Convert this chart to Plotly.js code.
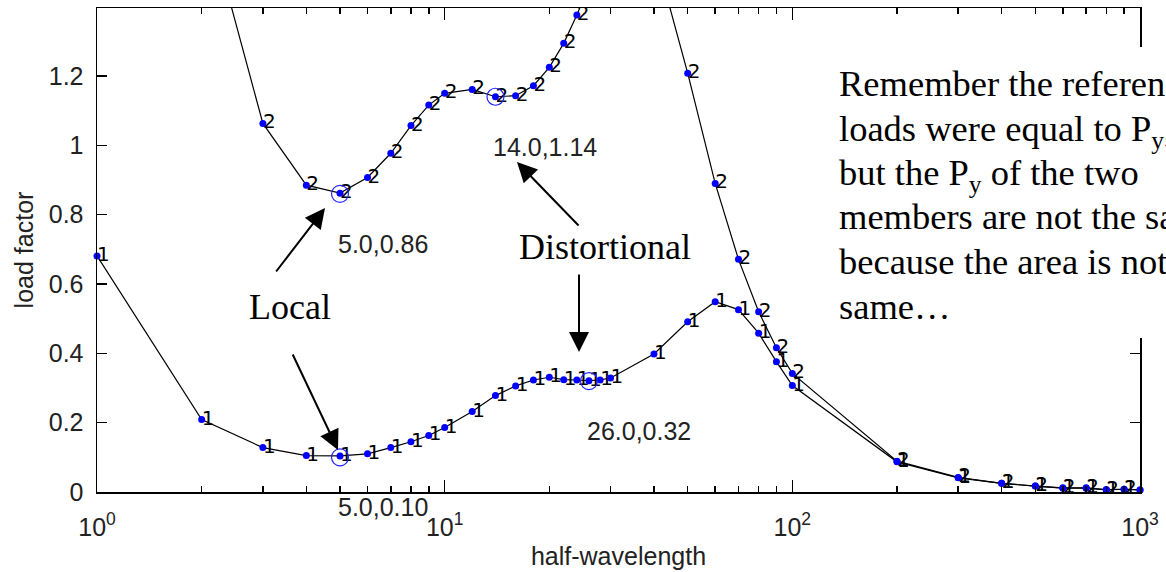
<!DOCTYPE html>
<html><head><meta charset="utf-8">
<script src="https://cdn.plot.ly/plotly-3.0.1.min.js"></script>
<style>html,body{margin:0;padding:0;background:#fff;} #chart{width:1166px;height:572px;}</style>
</head><body><div id="chart"></div>
<script>
// ---- data ----
const halfWavelength = [1,2,3,4,5,6,7,8,9,10,12,14,16,18,20,22,24,26,28,30,40,50,60,70,80,90,100,200,300,400,500,600,700,800,900,1000];
const loadFactorMode1 = [0.681,0.209,0.128,0.105,0.104,0.110,0.128,0.145,0.163,0.186,0.232,0.278,0.306,0.323,0.331,0.324,0.323,0.321,0.323,0.329,0.398,0.491,0.549,0.526,0.458,0.376,0.307,0.087,0.041,0.025,0.017,0.011,0.011,0.006,0.008,0.006];
const loadFactorMode2 = [null,1.716,1.063,0.885,0.862,0.907,0.977,1.057,1.116,1.150,1.161,1.140,1.143,1.172,1.225,1.294,1.376,1.46,1.53,1.59,1.566,1.208,0.890,0.671,0.520,0.416,0.342,0.089,0.042,0.025,0.017,0.012,0.012,0.007,0.008,0.006];
const mode1Label = '1';
const mode2Label = '2';
const minimaX = [5, 14, 5, 26];
const minimaY = [0.86, 1.14, 0.10, 0.32];
const xTickVals = [1, 10, 100, 1000];
const xTickText = ['10<sup>0</sup>', '10<sup>1</sup>', '10<sup>2</sup>', '10<sup>3</sup>'];
const xMinorVals = [2,3,4,5,6,7,8,9,20,30,40,50,60,70,80,90,200,300,400,500,600,700,800,900];
const yTickVals = [0, 0.2, 0.4, 0.6, 0.8, 1, 1.2];
const yTickText = ['0', '0.2', '0.4', '0.6', '0.8', '1', '1.2'];
const xTitle = 'half-wavelength';
const yTitle = 'load factor';
const noteLines = ['Remember the reference', 'loads were equal to P<sub>y</sub>,', 'but the P<sub>y</sub> of the two',
  'members are not the same', 'because the area is not the', 'same…'];

// ---- layout helpers ----
const W = 1166, H = 572, ML = 97, MR = 26, MT = 8, MB = 80;
const PW = W - ML - MR, PH = H - MT - MB;
const px = x => (x - ML) / PW;
const py = y => (H - MB - y) / PH;

const sans = 'Liberation Sans, Arial, sans-serif';
const serif = 'Liberation Serif, Times New Roman, serif';
const tickFont = {family: sans, size: 25, color: '#222'};

const traces = [
  {x: halfWavelength, y: loadFactorMode1, mode: 'lines', line: {color: '#000', width: 1.2}, hoverinfo: 'skip'},
  {x: halfWavelength, y: loadFactorMode2, mode: 'lines', line: {color: '#000', width: 1.2}, hoverinfo: 'skip'},
  {x: halfWavelength, y: loadFactorMode1, mode: 'text', text: halfWavelength.map(() => mode1Label),
   textposition: 'middle right', textfont: {family: 'DejaVu Sans', size: 20, color: '#000'}, cliponaxis: true},
  {x: halfWavelength, y: loadFactorMode2, mode: 'text', text: halfWavelength.map(() => mode2Label),
   textposition: 'middle right', textfont: {family: 'DejaVu Sans', size: 20, color: '#000'}, cliponaxis: true},
  {x: halfWavelength, y: loadFactorMode1, mode: 'markers', marker: {color: '#0000ff', size: 7}, cliponaxis: false},
  {x: halfWavelength, y: loadFactorMode2, mode: 'markers', marker: {color: '#0000ff', size: 7}, cliponaxis: false},
  {x: minimaX, y: minimaY, mode: 'markers', marker: {symbol: 'circle-open', color: '#2222ff', size: 17, line: {width: 1.2}}, cliponaxis: false}
];

const annotations = [];
minimaX.forEach((mx, i) => {
  annotations.push({x: Math.log10(mx), y: minimaY[i], xref: 'x', yref: 'y', xanchor: 'left', yanchor: 'middle',
    yshift: -50, xshift: -4, showarrow: false, text: mx.toFixed(1) + ',' + minimaY[i].toFixed(2), font: tickFont});
});
annotations.push({x: px(290), y: py(307), xref: 'paper', yref: 'paper', xanchor: 'center', yanchor: 'middle',
  showarrow: false, text: 'Local', font: {family: serif, size: 36, color: '#000'}});
annotations.push({x: px(605), y: py(247), xref: 'paper', yref: 'paper', xanchor: 'center', yanchor: 'middle',
  showarrow: false, text: 'Distortional', font: {family: serif, size: 36, color: '#000'}});
const arrows = [
  [275, 273, 325, 208],
  [292, 353, 338, 450],
  [580, 227, 517, 162],
  [579, 273, 579, 352]
];
arrows.forEach(a => {
  annotations.push({x: px(a[2]), y: py(a[3]), xref: 'paper', yref: 'paper', ax: a[0] - a[2], ay: a[1] - a[3],
    text: '', showarrow: true, arrowhead: 2, arrowsize: 2, arrowwidth: 2, arrowcolor: '#000', standoff: 0});
});
noteLines.forEach((t, i) => {
  annotations.push({x: px(838), y: py(62 + i * 44.5), xref: 'paper', yref: 'paper', xanchor: 'left', yanchor: 'top',
    align: 'left', showarrow: false, text: t, borderpad: 0, font: {family: serif, size: 36.5, color: '#000'}});
});

const shapes = [
  {type: 'rect', xref: 'paper', yref: 'paper', x0: px(826), x1: px(1220), y0: py(338), y1: py(47),
   fillcolor: '#fff', line: {width: 0}, layer: 'above'}
];

const layout = {
  width: W, height: H,
  margin: {l: ML, r: MR, t: MT, b: MB, pad: 0},
  paper_bgcolor: '#fff', plot_bgcolor: '#fff',
  showlegend: false,
  font: {family: sans, size: 25, color: '#222'},
  xaxis: {
    type: 'log', range: [0, 3], showgrid: false, zeroline: false,
    showline: true, linecolor: '#000', linewidth: 1.5, mirror: 'ticks',
    ticks: 'inside', ticklen: 12, tickwidth: 1.5, tickcolor: '#000',
    tickmode: 'array', tickvals: xTickVals, ticktext: xTickText, tickfont: tickFont, ticklabelstandoff: 12,
    minor: {tickmode: 'array', tickvals: xMinorVals, ticks: 'inside', ticklen: 6, tickwidth: 1.5, tickcolor: '#000', showgrid: false},
    title: {text: xTitle, font: tickFont, standoff: 8}
  },
  yaxis: {
    range: [0, 1.396], showgrid: false, zeroline: false,
    showline: true, linecolor: '#000', linewidth: 1.5, mirror: 'ticks',
    ticks: 'inside', ticklen: 10, tickwidth: 1.5, tickcolor: '#000',
    tickmode: 'array', tickvals: yTickVals, ticktext: yTickText, tickfont: tickFont, ticklabelstandoff: 7,
    title: {text: yTitle, font: tickFont, standoff: 8}
  },
  shapes: shapes,
  annotations: annotations
};

Plotly.newPlot('chart', traces, layout, {staticPlot: true, displayModeBar: false});
</script></body></html>
